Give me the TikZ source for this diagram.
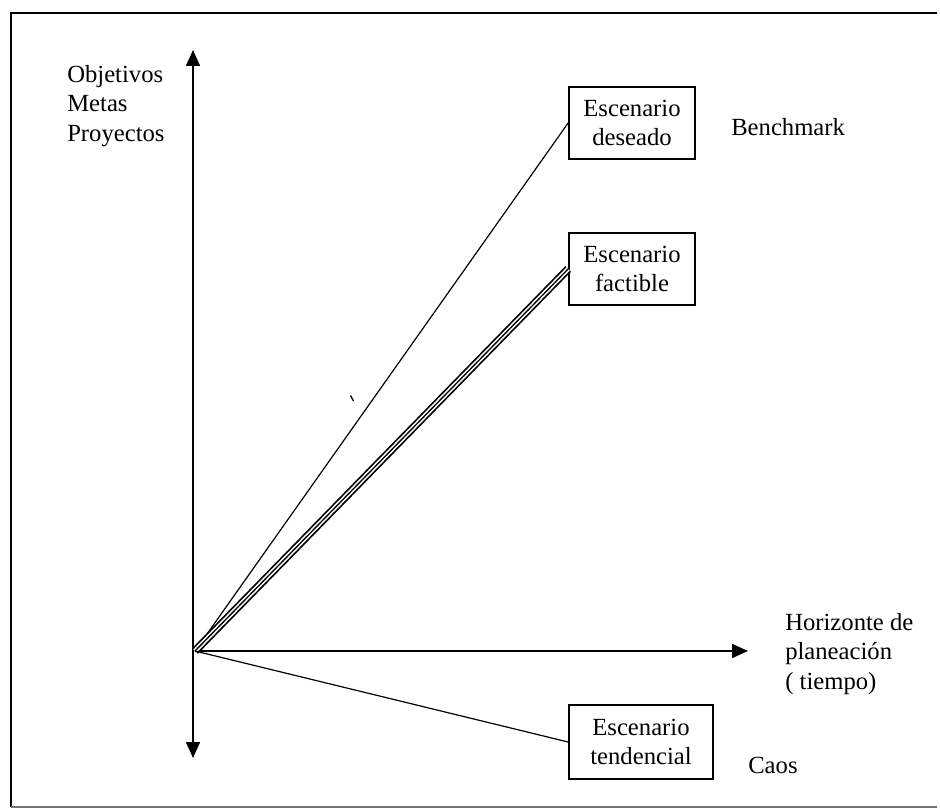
\documentclass[tikz,border=0pt]{standalone}
\usepackage{fontspec}
\setmainfont{Liberation Serif}
\usetikzlibrary{arrows.meta}
\begin{document}
\begin{tikzpicture}[x=0.75pt,y=-0.75pt,
  every node/.style={font=\fontsize{18.5}{22}\selectfont, inner sep=0pt},
  axis/.style={line width=1.2pt, -{Triangle[length=12pt,width=10.5pt]}},
  scenbox/.style={draw, line width=1.3pt, align=center, minimum height=54pt},
  ray/.style={line width=0.9pt},
  label/.style={align=left, anchor=north west}]
\useasboundingbox (0,0) rectangle (940,809);
% frame
\draw[line width=1.2pt] (937,13) -- (11,13) -- (11,807);
\draw[line width=1pt, black!55] (11,807) -- (937,807);

% origin of the axes
\coordinate (O) at (195,651);
\coordinate (ytop) at (193,50);
\coordinate (ybot) at (193,758);
\coordinate (xend) at (748,651);
\draw[axis] (193,651) -- (ytop);
\draw[axis] (193,651) -- (ybot);
\draw[axis] (O) -- (xend);

% scenario boxes
\node[scenbox, minimum width=94.5pt] (des) at (632,123) {Escenario\\deseado};
\node[scenbox, minimum width=94.5pt] (fac) at (632,269) {Escenario\\factible};
\node[scenbox, minimum width=108pt, minimum height=55.5pt] (ten) at (641,742) {Escenario\\tendencial};

% rays from the origin
\draw[ray] (O) -- (des.west);
\draw[line width=6pt] (O) -- (fac.west);
\draw[line width=3.4pt, white] (O) -- (fac.west);
\draw[line width=1pt] (O) -- (fac.west);
\draw[ray] (O) -- (ten.west);

% small stray mark
\draw[line width=1pt] (350.5,395.5) -- (353.5,401);

% labels
\node[label] (obj) at (67,65) {Objetivos\\Metas\\Proyectos};
\node[anchor=base west] (bench) at (731,136) {Benchmark};
\node[label] (hor) at (785,613) {Horizonte de\\planeación\\( tiempo)};
\node[anchor=base west] (caos) at (748,773) {Caos};
\end{tikzpicture}
\end{document}
